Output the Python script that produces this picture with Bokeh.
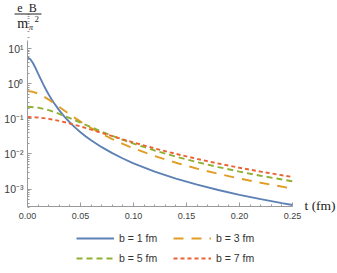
import math
from bokeh.plotting import figure
from bokeh.models import (Range1d, FixedTicker, NumeralTickFormatter, Legend,
                          LegendItem, Label, BoxAnnotation)
from bokeh.embed import file_html
from bokeh.resources import INLINE

# ---- data ----
t_b1 = [0, 0.0025, 0.005, 0.0075, 0.01, 0.0125, 0.015, 0.0175, 0.02, 0.0225,
        0.025, 0.03, 0.035, 0.04, 0.045, 0.05, 0.055, 0.06, 0.07, 0.08, 0.09,
        0.10, 0.12, 0.14, 0.16, 0.18, 0.20, 0.22, 0.24, 0.25]
B_b1 = [5.5, 5.02, 3.94, 2.82, 1.94, 1.34, 0.939, 0.672, 0.492, 0.368,
        0.282, 0.174, 0.114, 0.0785, 0.0561, 0.0415, 0.0315, 0.0244, 0.01556,
        0.0105, 0.00741, 0.00542, 0.00315, 0.00199, 0.001335, 0.000939,
        0.000685, 0.000515, 0.000397, 0.000351]

t_b3 = [0, 0.005, 0.01, 0.015, 0.02, 0.025, 0.03, 0.035, 0.04, 0.045, 0.05,
        0.06, 0.07, 0.08, 0.09, 0.10, 0.12, 0.14, 0.16, 0.18, 0.20, 0.22, 0.25]
B_b3 = [0.611, 0.586, 0.522, 0.437, 0.352, 0.277, 0.216, 0.1684, 0.132,
        0.1043, 0.0832, 0.0547, 0.0373, 0.0264, 0.0193, 0.0145, 0.00872,
        0.00562, 0.00382, 0.00271, 0.00199, 0.00151, 0.00103]

t_b5 = [0, 0.01, 0.02, 0.03, 0.04, 0.05, 0.06, 0.07, 0.08, 0.09, 0.10, 0.12,
        0.14, 0.16, 0.18, 0.20, 0.22, 0.25]
B_b5 = [0.22, 0.2074, 0.1761, 0.1387, 0.1048, 0.0778, 0.0577, 0.0432, 0.0328,
        0.0252, 0.01968, 0.01252, 0.00837, 0.00584, 0.00422, 0.00314, 0.00239,
        0.00166]

t_b7 = [0, 0.01, 0.02, 0.03, 0.04, 0.05, 0.06, 0.07, 0.08, 0.09, 0.10, 0.12,
        0.14, 0.16, 0.18, 0.20, 0.22, 0.25]
B_b7 = [0.1122, 0.1089, 0.0997, 0.0871, 0.0734, 0.0605, 0.0491, 0.0397,
        0.0320, 0.0260, 0.0212, 0.01435, 0.01004, 0.00722, 0.00534, 0.00404,
        0.00313, 0.00220]

series_labels = ["b = 1 fm", "b = 3 fm", "b = 5 fm", "b = 7 fm"]
series_colors = ["#5E81B5", "#E19C24", "#8FB032", "#EB6235"]
series_dash = ["solid", "10 8", "6 4", "4 3"]

x_ticks = [0.0, 0.05, 0.10, 0.15, 0.20, 0.25]
x_minor = [0.01, 0.02, 0.03, 0.04, 0.06, 0.07, 0.08, 0.09, 0.11, 0.12, 0.13,
           0.14, 0.16, 0.17, 0.18, 0.19, 0.21, 0.22, 0.23, 0.24]
y_ticks = [0.001, 0.01, 0.1, 1.0, 10.0]
y_tick_labels = ["10\u207b\u00b3", "10\u207b\u00b2", "10\u207b\u00b9",
                 "10\u2070", "10\u00b9"]
y_minor = [m * 10.0 ** k for k in range(-4, 2) for m in range(2, 10)]

# axis extent (data) and where it sits on the canvas (pixels)
x_lo, x_hi = 0.0, 0.25
y_lo, y_hi = 3.19e-4, 16.9
W, H = 337, 273
ax_left, ax_right, ax_top, ax_bottom = 27, 292, 40, 206

# whole canvas is the frame; ranges extended so the axes land at the pixels
xs = (x_hi - x_lo) / (ax_right - ax_left)
xr = Range1d(x_lo - ax_left * xs, x_hi + (W - ax_right) * xs)
ls = (math.log10(y_hi) - math.log10(y_lo)) / (ax_bottom - ax_top)
yr = Range1d(10 ** (math.log10(y_lo) - (H - ax_bottom) * ls),
             10 ** (math.log10(y_hi) + ax_top * ls))

p = figure(width=W, height=H, output_backend="svg", toolbar_location=None,
           y_axis_type="log", x_range=xr, y_range=yr, min_border=0)
p.outline_line_color = None
p.xgrid.visible = False
p.ygrid.visible = False
p.background_fill_color = "white"
p.border_fill_color = "white"

axis_col = "#9a9a9a"
lab_col = "#404040"
for ax in (p.xaxis[0], p.yaxis[0]):
    ax.axis_line_color = axis_col
    ax.major_tick_line_color = axis_col
    ax.minor_tick_line_color = axis_col
    ax.major_tick_in = 4
    ax.major_tick_out = 0
    ax.minor_tick_in = 2
    ax.minor_tick_out = 0
    ax.major_label_text_color = lab_col
    ax.major_label_text_font = "Liberation Sans"
    ax.major_label_text_font_size = "9px"

p.xaxis[0].ticker = FixedTicker(ticks=x_ticks, minor_ticks=x_minor)
p.xaxis[0].formatter = NumeralTickFormatter(format="0.00")
p.xaxis[0].major_label_standoff = 6
p.xaxis[0].bounds = (x_lo, x_hi)
p.xaxis[0].fixed_location = y_lo
p.yaxis[0].ticker = FixedTicker(ticks=y_ticks, minor_ticks=y_minor)
p.yaxis[0].major_label_overrides = dict(zip(y_ticks, y_tick_labels))
p.yaxis[0].major_label_standoff = 4
p.yaxis[0].major_label_text_font_size = "10.5px"
p.yaxis[0].bounds = (y_lo, y_hi)
p.yaxis[0].fixed_location = x_lo

ts = [t_b1, t_b3, t_b5, t_b7]
bs = [B_b1, B_b3, B_b5, B_b7]
items = []
for t, b, lab, col, dash in zip(ts, bs, series_labels, series_colors, series_dash):
    r = p.line(t, b, line_color=col, line_width=1.9, line_dash=dash)
    items.append(LegendItem(label=lab, renderers=[r]))

legend = Legend(items=items, location=(76, 7), orientation="horizontal",
                ncols=2, padding=0, margin=0, spacing=4,
                glyph_width=38, glyph_height=16, label_height=16,
                label_width=50, label_standoff=5,
                border_line_color=None, background_fill_alpha=0,
                label_text_font="Liberation Sans",
                label_text_font_size="10.5px", label_text_color="#333333")
p.add_layout(legend)

serif = "Liberation Serif"
ink = "#222222"
p.add_layout(Label(x=26.5, y=7, x_units="canvas", y_units="canvas",
                   text="e\u2002B", text_align="center",
                   text_baseline="alphabetic", text_font=serif,
                   text_font_size="12px", text_color=ink))
p.add_layout(BoxAnnotation(left=14, right=41, top=13, bottom=14,
                           left_units="canvas", right_units="canvas",
                           top_units="canvas", bottom_units="canvas",
                           fill_color=ink, fill_alpha=1, line_color=None))
p.add_layout(Label(x=16.7, y=23, x_units="canvas", y_units="canvas",
                   text="m", text_align="left", text_baseline="alphabetic",
                   text_font=serif, text_font_size="14px", text_color=ink))
p.add_layout(Label(x=28.5, y=26.5, x_units="canvas", y_units="canvas",
                   text="\u03c0", text_align="left",
                   text_baseline="alphabetic", text_font=serif,
                   text_font_style="italic", text_font_size="8px",
                   text_color=ink))
p.add_layout(Label(x=34, y=18, x_units="canvas", y_units="canvas",
                   text="2", text_align="left", text_baseline="alphabetic",
                   text_font=serif, text_font_size="9px", text_color=ink))
p.add_layout(Label(x=304, y=205, x_units="canvas", y_units="canvas",
                   text="t (fm)", text_align="left", text_baseline="middle",
                   text_font=serif, text_font_size="13.5px", text_color=ink))

open("out.html", "w").write(file_html(p, INLINE))
